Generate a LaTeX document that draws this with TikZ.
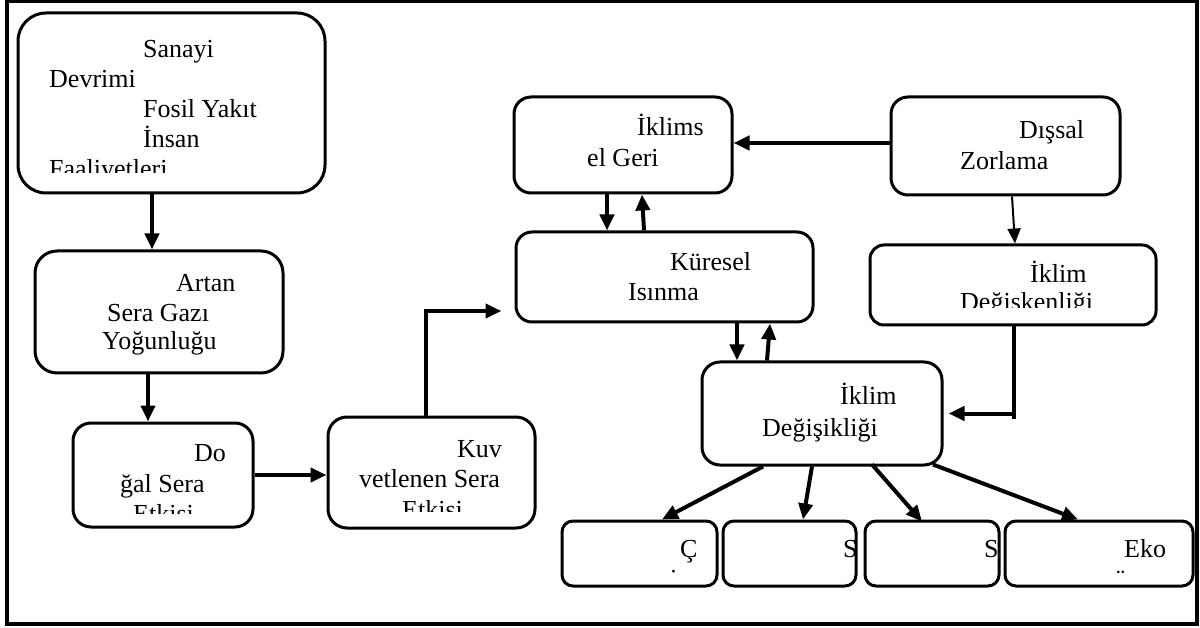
\documentclass[tikz,border=0pt]{standalone}
\usepackage{fontspec}
\setmainfont{Liberation Serif}
\usetikzlibrary{arrows.meta}
\begin{document}
\begin{tikzpicture}[x=1pt,y=-1pt,
  box/.style={draw=black, line width=3pt, inner sep=0pt},
  txt/.style={anchor=base west, inner sep=0pt, font=\fontsize{26}{30}\selectfont},
  arr/.style={line width=4pt, -{Triangle[length=16pt,width=14pt]}},
  thinarr/.style={line width=2pt, -{Triangle[length=15pt,width=13pt]}},
  ln/.style={line width=4pt}]
\useasboundingbox (0,0) rectangle (1200,628);
\draw[line width=3.5pt] (7,1) rectangle (1197,624);
% boxes
\node[box, minimum width=307pt, minimum height=180pt, rounded corners=28pt] (b1) at (171.5,103) {};
\node[box, minimum width=248pt, minimum height=122pt, rounded corners=22pt] (b2) at (159,312) {};
\node[box, minimum width=180pt, minimum height=104pt, rounded corners=18pt] (b3) at (163,475) {};
\node[box, minimum width=207pt, minimum height=111pt, rounded corners=19pt] (b4) at (431.5,472.5) {};
\node[box, minimum width=218pt, minimum height=96pt, rounded corners=17pt] (b6) at (623,145) {};
\node[box, minimum width=297pt, minimum height=90pt, rounded corners=16pt] (b5) at (664.5,277) {};
\node[box, minimum width=229pt, minimum height=98pt, rounded corners=17pt] (b7) at (1005.5,146) {};
\node[box, minimum width=286pt, minimum height=80pt, rounded corners=14pt] (b8) at (1013,285) {};
\node[box, minimum width=240pt, minimum height=103pt, rounded corners=18pt] (b9) at (822,413.5) {};
\node[box, minimum width=155pt, minimum height=65pt, rounded corners=11pt] (ba) at (639.5,553.5) {};
\node[box, minimum width=133pt, minimum height=65pt, rounded corners=11pt] (bb) at (789.5,553.5) {};
\node[box, minimum width=134pt, minimum height=65pt, rounded corners=11pt] (bc) at (932,553.5) {};
\node[box, minimum width=188pt, minimum height=65pt, rounded corners=11pt] (bd) at (1099,553.5) {};
% texts
\begin{scope}
\clip (20,15) rectangle (323,173);
\node[txt] (t1a) at (143,58) {Sanayi};
\node[txt] (t1b) at (49,88) {Devrimi};
\node[txt] (t1c) at (143,118) {Fosil Yakıt};
\node[txt] (t1d) at (143,148) {İnsan};
\node[txt] (t1e) at (49,178) {Faaliyetleri};
\end{scope}
\node[txt] (t2a) at (176,292) {Artan};
\node[txt] (t2b) at (107,322) {Sera Gazı};
\node[txt] (t2c) at (102,350) {Yoğunluğu};
\begin{scope}
\clip (75,425) rectangle (251,513);
\node[txt] (t3a) at (194,461) {Do};
\node[txt] (t3b) at (120,492) {ğal Sera};
\node[txt] (t3c) at (133,522) {Etkisi};
\end{scope}
\begin{scope}
\clip (330,419) rectangle (533,511);
\node[txt] (t4a) at (457,457) {Kuv};
\node[txt] (t4b) at (359,487) {vetlenen Sera};
\node[txt] (t4c) at (402,518) {Etkisi};
\end{scope}
\node[txt] (t6a) at (637,136) {İklims};
\node[txt] (t6b) at (587,167) {el Geri};
\node[txt] (t5a) at (670,271) {Küresel};
\node[txt] (t5b) at (628,301) {Isınma};
\node[txt] (t7a) at (1019,139) {Dışsal};
\node[txt] (t7b) at (960,170) {Zorlama};
\begin{scope}
\clip (872,247) rectangle (1154,308);
\node[txt] (t8a) at (1030,283) {İklim};
\node[txt] (t8b) at (960,311) {Değişkenliği};
\end{scope}
\node[txt] (t9a) at (840,405) {İklim};
\node[txt] (t9b) at (762,436) {Değişikliği};
\begin{scope}
\clip (564,523) rectangle (715,572);
\node[txt] (taa) at (680,557) {Ç};
\node[txt] (tab) at (670,587) {i};
\end{scope}
\begin{scope}
\clip (725,523) rectangle (854.5,572);
\node[txt] (tba) at (843,557) {S};
\end{scope}
\begin{scope}
\clip (867,523) rectangle (997.5,572);
\node[txt] (tca) at (984,557) {S};
\end{scope}
\begin{scope}
\clip (1007,523) rectangle (1191,572);
\node[txt] (tda) at (1124,557) {Eko};
\node[txt] (tdb) at (1114,587) {ü};
\end{scope}
% connectors
\draw[arr] ([xshift=-19.5pt]b1.south) -- ([xshift=-7pt]b2.north);
\draw[arr] ([xshift=-11pt]b2.south) -- ([xshift=-15pt]b3.north);
\draw[arr] (b3.east) -- ([yshift=-2.5pt]b4.west);
\draw[arr] ([xshift=-5.5pt]b4.north) |- ([xshift=-13pt,yshift=-34pt]b5.west);
\draw[arr] ([yshift=3pt]b7.west) -- ([yshift=2pt]b6.east);
\draw[arr] ([xshift=-16pt]b6.south) -- ([xshift=-57.5pt]b5.north);
\draw[arr] ([xshift=-20.5pt]b5.north) -- ([xshift=19pt]b6.south);
\draw[thinarr] ([xshift=6.5pt]b7.south) -- ([xshift=2pt]b8.north);
\draw[arr] ([xshift=72.5pt]b5.south) -- ([xshift=-85pt]b9.north);
\draw[arr] ([xshift=-55pt]b9.north) -- ([xshift=105.5pt]b5.south);
\path ([xshift=1pt]b8.south) coordinate (c8s);
\draw[arr] (c8s) |- ([xshift=5pt]b9.east);
\draw[ln] (c8s |- b9.east) -- ++(0,5);
\draw[arr] ([xshift=-59pt]b9.south) -- ([xshift=22.5pt]ba.north);
\draw[arr] ([xshift=-10pt]b9.south) -- ([xshift=13.5pt]bb.north);
\draw[arr] ([xshift=50pt,yshift=2pt]b9.south) -- ([xshift=-10pt,yshift=-2pt]bc.north);
\draw[arr] ([xshift=111pt,yshift=2pt]b9.south) -- ([xshift=-21pt]bd.north);
\end{tikzpicture}
\end{document}
